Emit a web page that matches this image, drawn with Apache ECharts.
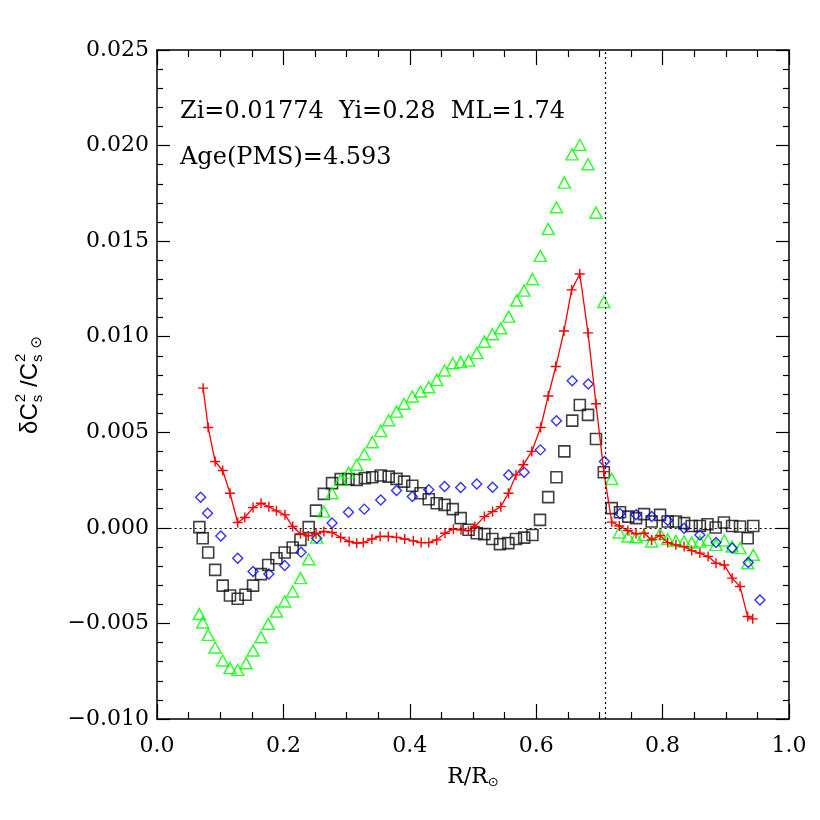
<!DOCTYPE html>
<html><head><meta charset="utf-8">
<script src="https://cdn.jsdelivr.net/npm/echarts@6/dist/echarts.min.js"></script>
<style>html,body{margin:0;padding:0;background:#fff}#c{width:820px;height:820px}</style>
</head><body><div id="c"></div>
<script>
// ---- data ----
const redR = [0.073,0.081,0.092,0.104,0.1155,0.1277,0.139,0.152,0.1646,0.177,0.189,0.2025,0.2147,0.227,0.2394,0.2516,0.264,0.277,0.2906,0.304,0.316,0.3265,0.34,0.353,0.366,0.379,0.392,0.4056,0.418,0.430,0.4425,0.4557,0.469,0.481,0.4926,0.503,0.518,0.531,0.544,0.556,0.568,0.5796,0.593,0.607,0.619,0.631,0.644,0.656,0.669,0.682,0.6946,0.707,0.7195,0.7315,0.745,0.758,0.7706,0.7827,0.796,0.808,0.821,0.834,0.846,0.859,0.872,0.8845,0.8976,0.910,0.9225,0.9346,0.9426];
const redD = [0.00731,0.00525,0.00347,0.0030,0.00181,0.00028,0.00054,0.00106,0.00129,0.00111,0.00089,0.00068,0.00007,-0.00031,-0.00042,-0.00031,-0.00019,-0.00024,-0.0005,-0.00071,-0.0008,-0.00077,-0.00058,-0.00045,-0.00045,-0.0005,-0.00058,-0.00068,-0.00077,-0.00077,-0.00063,-0.00028,-0.00007,-0.0001,-0.00016,0.00007,0.00059,0.00085,0.00111,0.00181,0.00277,0.0033,0.004,0.00525,0.0069,0.00844,0.0103,0.01245,0.01328,0.0102,0.00649,0.00294,0.0003,0.0001,-0.00014,-0.00031,-0.00028,-0.00063,-0.0004,-0.00077,-0.00089,-0.00098,-0.00119,-0.00132,-0.0015,-0.00185,-0.00194,-0.00263,-0.00307,-0.00464,-0.00476];

const greenR = [0.067,0.0723,0.081,0.092,0.104,0.1155,0.1277,0.141,0.152,0.1646,0.176,0.189,0.202,0.2147,0.227,0.240,0.2527,0.264,0.277,0.2906,0.303,0.316,0.328,0.3407,0.354,0.3666,0.379,0.391,0.404,0.417,0.430,0.4426,0.455,0.468,0.4805,0.493,0.506,0.518,0.5306,0.5438,0.5565,0.569,0.5807,0.594,0.6065,0.619,0.632,0.6445,0.6566,0.669,0.682,0.6946,0.707,0.7195,0.7315,0.745,0.758,0.7706,0.7827,0.796,0.808,0.821,0.834,0.846,0.859,0.872,0.8845,0.8976,0.910,0.9225,0.9346,0.9435];
const greenD = [-0.00451,-0.00495,-0.0056,-0.00626,-0.00694,-0.00734,-0.00743,-0.00708,-0.00642,-0.00572,-0.00502,-0.00438,-0.00385,-0.00333,-0.00263,-0.00164,-0.00051,0.00085,0.00181,0.00251,0.00289,0.0033,0.00385,0.00448,0.00507,0.00563,0.00608,0.00649,0.00687,0.00713,0.00736,0.00774,0.00823,0.00861,0.00867,0.00875,0.00914,0.00974,0.01013,0.01044,0.01105,0.01189,0.01241,0.01301,0.01423,0.01564,0.01677,0.01806,0.01954,0.02003,0.01902,0.01649,0.01182,0.00256,-0.00024,-0.00045,-0.00049,-0.00037,-0.00071,-0.00031,-0.00059,-0.00068,-0.00071,-0.00077,-0.00071,-0.00063,-0.00089,-0.00066,-0.00098,-0.00106,-0.00185,-0.00141];

const blueR = [0.069,0.080,0.101,0.1277,0.152,0.177,0.202,0.228,0.2527,0.277,0.303,0.328,0.354,0.379,0.404,0.430,0.455,0.4805,0.506,0.531,0.5565,0.581,0.6065,0.632,0.657,0.6825,0.708,0.7326,0.758,0.7827,0.808,0.834,0.859,0.8845,0.910,0.9356,0.954];
const blueD = [0.0016,0.00077,-0.00042,-0.00159,-0.00228,-0.00242,-0.00197,-0.00127,-0.00054,0.00025,0.00082,0.00098,0.00146,0.00195,0.00164,0.00199,0.00216,0.00211,0.00229,0.00213,0.00277,0.00291,0.00408,0.0056,0.00769,0.00753,0.00347,0.00075,0.00068,0.00059,0.00038,-0.00002,-0.00037,-0.00077,-0.00106,-0.00181,-0.00377];

const blackR = [0.067,0.0723,0.081,0.092,0.104,0.1155,0.1277,0.140,0.152,0.1646,0.176,0.189,0.202,0.2147,0.227,0.240,0.2516,0.264,0.277,0.2906,0.303,0.316,0.329,0.3407,0.354,0.3666,0.379,0.391,0.404,0.417,0.430,0.4426,0.455,0.468,0.4805,0.493,0.506,0.518,0.5306,0.5427,0.556,0.568,0.581,0.594,0.606,0.619,0.632,0.6445,0.657,0.669,0.682,0.6946,0.707,0.7195,0.7326,0.7457,0.758,0.7706,0.7827,0.796,0.808,0.821,0.834,0.846,0.859,0.871,0.884,0.897,0.910,0.9225,0.9346,0.9435];
const blackD = [0.00004,-0.00054,-0.00129,-0.0022,-0.00302,-0.00354,-0.00371,-0.0035,-0.00302,-0.00242,-0.00194,-0.00159,-0.00129,-0.00103,-0.00063,0.00004,0.0009,0.00178,0.00234,0.00255,0.00255,0.00251,0.0026,0.00265,0.00274,0.00268,0.00256,0.00242,0.0022,0.00181,0.0015,0.00129,0.0012,0.00098,0.00051,-0.0001,-0.00028,-0.00033,-0.00058,-0.00085,-0.0008,-0.00058,-0.00051,-0.00037,0.00042,0.00161,0.00265,0.004,0.00561,0.00643,0.00591,0.00465,0.00291,0.00103,0.00082,0.00059,0.00051,0.00072,0.00033,0.00068,0.00033,0.00033,0.00025,0.0001,0.0001,0.00019,0.00002,0.00028,0.0001,0.00007,-0.00054,0.0001];

const xTicks = {min: 0, max: 1, step: 0.2};
const yTicks = {min: -0.010, max: 0.025, step: 0.005};
const convBase = 0.713;           // vertical dotted reference
const zeroLine = [0.02, 0.98];    // extent of horizontal dotted line at 0
const noteLine1 = 'Zi=0.01774  Yi=0.28  ML=1.74';
const noteLine2 = 'Age(PMS)=4.593';

// ---- chart ----
const zip = (a, b) => a.map((v, i) => [v, b[i]]);
const chart = echarts.init(document.getElementById('c'), null, {renderer: 'canvas'});
const G = {left: 157, top: 50, width: 632, height: 669};
const serif = 'DejaVu Serif';
const sans = 'Liberation Sans';

function axisCommon(showLabel) {
  return {
    axisLine: {show: true, onZero: false, lineStyle: {color: '#000', width: 1.5}},
    splitLine: {show: false},
    axisLabel: {show: showLabel, color: '#000', fontFamily: serif, fontSize: 22},
  };
}
const xa = (pos, show) => Object.assign(axisCommon(show), {
  type: 'value', position: pos, min: xTicks.min, max: xTicks.max, interval: xTicks.step,
  axisTick: {show: true, inside: true, length: 15, lineStyle: {color: '#000', width: 1.2}},
  minorTick: {show: true, splitNumber: 4, length: 7, lineStyle: {color: '#000', width: 1.2}},
});
const ya = (pos, show) => Object.assign(axisCommon(show), {
  type: 'value', position: pos, min: yTicks.min, max: yTicks.max, interval: yTicks.step,
  axisTick: {show: true, inside: true, length: 13, lineStyle: {color: '#000', width: 1.2}},
  minorTick: {show: true, splitNumber: 5, length: 6, lineStyle: {color: '#000', width: 1.2}},
});
const xb = xa('bottom', true);
xb.axisLabel.margin = 16;
xb.axisLabel.formatter = v => v.toFixed(1);
const yl = ya('left', true);
yl.axisLabel.margin = 8;
yl.axisLabel.formatter = v => { const s = Math.abs(v) < 1e-9 ? '0.000' : v.toFixed(3); return s.replace('-', '\u2212'); };

// y axis title built from stacked super/subscripts
const ctx = document.createElement('canvas').getContext('2d');
const tw = (t, sz, f) => { ctx.font = sz + 'px "' + f + '"'; return ctx.measureText(t).width; };
const big = 24, small = 15;
const parts = [];
let px = 0;
function addBig(t) { parts.push({type: 'text', x: px, y: 0, style: {text: t, font: big + 'px "' + sans + '"', fill: '#000', verticalAlign: 'middle'}}); px += tw(t, big, sans); }
function addStack() {
  parts.push({type: 'text', x: px + 1, y: -9, style: {text: '2', font: small + 'px "' + sans + '"', fill: '#000', verticalAlign: 'middle'}});
  parts.push({type: 'text', x: px + 1, y: 8, style: {text: 's', font: small + 'px "' + sans + '"', fill: '#000', verticalAlign: 'middle'}});
  px += tw('2', small, sans) + 3;
}
addBig('\u03b4C'); addStack(); px += 5; addBig('/C'); addStack(); px += 3;
parts.push({type: 'text', x: px, y: 7, style: {text: '\u2299', font: small + 'px "DejaVu Sans"', fill: '#000', verticalAlign: 'middle'}});
px += tw('\u2299', small, 'DejaVu Sans');
const ylabLen = px;

chart.setOption({
  animation: false,
  backgroundColor: '#fff',
  grid: G,
  xAxis: [xb, xa('top', false)],
  yAxis: [yl, ya('right', false)],
  graphic: [
    {type: 'group', x: 30, y: 385 + ylabLen / 2, rotation: Math.PI / 2, children: parts},
    {type: 'text', x: 180, y: 112, style: {text: noteLine1, font: '24px "' + serif + '"', fill: '#000', verticalAlign: 'middle'}},
    {type: 'text', x: 180, y: 158, style: {text: noteLine2, font: '24px "' + serif + '"', fill: '#000', verticalAlign: 'middle'}},
    {type: 'text', x: 473, y: 777, style: {text: 'R/R{s|\u2299}', font: '22px "' + serif + '"', fill: '#000', align: 'center', verticalAlign: 'middle',
      rich: {s: {fontSize: 13, fontFamily: 'DejaVu Sans', padding: [12, 0, 0, 0]}}}},
  ],
  series: [
    {type: 'scatter', name: 'black', data: zip(blackR, blackD), symbol: 'rect', symbolSize: 11,
      itemStyle: {color: 'rgba(0,0,0,0)', borderColor: '#111', borderWidth: 1.6},
      markLine: {silent: true, symbol: 'none', label: {show: false}, animation: false,
        lineStyle: {color: '#000', type: [2, 3], width: 1.2},
        data: [{xAxis: convBase}, [{coord: [zeroLine[0], 0]}, {coord: [zeroLine[1], 0]}]]}},
    {type: 'scatter', name: 'green', data: zip(greenR, greenD), symbol: 'triangle', symbolSize: [12, 11],
      itemStyle: {color: 'rgba(0,0,0,0)', borderColor: '#00ff00', borderWidth: 1.5}},
    {type: 'scatter', name: 'blue', data: zip(blueR, blueD), symbol: 'diamond', symbolSize: 10,
      itemStyle: {color: 'rgba(0,0,0,0)', borderColor: '#0000ff', borderWidth: 1.4}},
    {type: 'line', name: 'red', data: zip(redR, redD), symbol: 'path://M0,5L10,5M5,0L5,10', symbolSize: 10,
      showSymbol: true, lineStyle: {color: '#ff0000', width: 1.3},
      itemStyle: {color: 'rgba(0,0,0,0)', borderColor: '#ff0000', borderWidth: 1.4}},
  ]
});
</script></body></html>
